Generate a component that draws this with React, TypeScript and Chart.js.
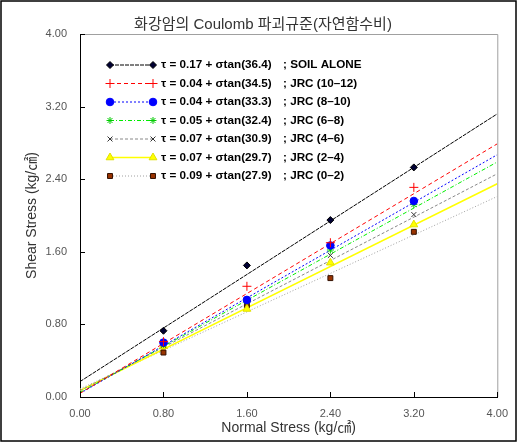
import React, { useEffect, useRef } from 'react';
import { Chart, registerables } from 'chart.js';
import { drawPoint } from 'chart.js/helpers';

Chart.register(...registerables);

// ---- data ----
const normalStress = [0.8, 1.6, 2.4, 3.2];
const soilAlone = [0.73, 1.45, 1.95, 2.53];
const jrc10to12 = [0.61, 1.22, 1.70, 2.31];
const jrc8to10 = [0.60, 1.07, 1.67, 2.16];
const jrc6to8 = [0.58, 1.06, 1.62, 2.12];
const jrc4to6 = [0.57, 1.04, 1.56, 2.01];
const jrc2to4 = [0.56, 0.97, 1.48, 1.90];
const jrc0to2 = [0.49, 1.01, 1.31, 1.82];

// fitted failure envelopes: value at sigma = 0 and sigma = 4
const fitX = [0, 4];
const fitSoil = [0.17, 3.12];
const fit10to12 = [0.04, 2.79];
const fit8to10 = [0.04, 2.67];
const fit6to8 = [0.05, 2.59];
const fit4to6 = [0.07, 2.46];
const fit2to4 = [0.07, 2.35];
const fit0to2 = [0.09, 2.21];

const equations = [
  'τ = 0.17 + σtan(36.4)',
  'τ = 0.04 + σtan(34.5)',
  'τ = 0.04 + σtan(33.3)',
  'τ = 0.05 + σtan(32.4)',
  'τ = 0.07 + σtan(30.9)',
  'τ = 0.07 + σtan(29.7)',
  'τ = 0.09 + σtan(27.9)',
];
const seriesNames = [
  '; SOIL ALONE',
  '; JRC (10–12)',
  '; JRC (8–10)',
  '; JRC (6–8)',
  '; JRC (4–6)',
  '; JRC (2–4)',
  '; JRC (0–2)',
];
const tickValues = [0, 0.8, 1.6, 2.4, 3.2, 4.0];
const chartTitle = '화강암의 Coulomb 파괴규준(자연함수비)';
const xTitle = 'Normal Stress (kg/㎠)';
const yTitle = 'Shear Stress (kg/㎠)';

const pointSeries = [soilAlone, jrc10to12, jrc8to10, jrc6to8, jrc4to6, jrc2to4, jrc0to2];
const fitSeries = [fitSoil, fit10to12, fit8to10, fit6to8, fit4to6, fit2to4, fit0to2];

// ---- styles ----
const styles = [
  { line: '#000000', dash: [4, 1], lw: 1, ps: 'rectRot', r: 3.5, fill: '#000033', stroke: '#000000', bw: 1 },
  { line: '#ff0000', dash: [4, 3], lw: 1, ps: 'cross', r: 4.5, fill: '#ff0000', stroke: '#ff0000', bw: 1 },
  { line: '#0000ff', dash: [2, 2], lw: 1, ps: 'circle', r: 3.8, fill: '#0000ff', stroke: '#0000ff', bw: 1 },
  { line: '#00ee00', dash: [4, 2, 1, 2], lw: 1, ps: 'star', r: 3.5, fill: '#00cc00', stroke: '#00cc00', bw: 1 },
  { line: '#888888', dash: [3, 2], lw: 1, ps: 'crossRot', r: 3.5, fill: '#333333', stroke: '#333333', bw: 1 },
  { line: '#ffff00', dash: [], lw: 1.5, ps: 'triangle', r: 4.5, fill: '#ffff00', stroke: '#e0e000', bw: 1 },
  { line: '#a0a0a0', dash: [1, 2], lw: 1, ps: 'rect', r: 3.5, fill: '#993300', stroke: '#331100', bw: 1 },
];

const FONT = '"Liberation Sans", Arial, "Noto Sans CJK KR", sans-serif';

const decorPlugin = {
  id: 'decor',
  afterDraw(chart: any) {
    const ctx = chart.ctx as CanvasRenderingContext2D;
    const { left, right, top, bottom } = chart.chartArea;
    const xs = chart.scales.x;
    const ys = chart.scales.y;
    ctx.save();
    // plot frame top/right
    ctx.strokeStyle = '#a0a0a0';
    ctx.lineWidth = 1;
    ctx.beginPath();
    ctx.moveTo(left, top + 0.5);
    ctx.lineTo(right + 0.5, top + 0.5);
    ctx.lineTo(right + 0.5, bottom);
    ctx.stroke();
    // inward ticks
    ctx.strokeStyle = '#000';
    ctx.beginPath();
    tickValues.forEach((v) => {
      const px = Math.round(xs.getPixelForValue(v)) + 0.5;
      ctx.moveTo(px, bottom);
      ctx.lineTo(px, bottom - 5);
      const py = Math.round(ys.getPixelForValue(v)) + 0.5;
      ctx.moveTo(left, py);
      ctx.lineTo(left + 5, py);
    });
    ctx.stroke();
    // outer border
    ctx.lineWidth = 1.5;
    ctx.strokeStyle = '#000';
    ctx.strokeRect(1, 1, 515, 440);
    // titles
    ctx.fillStyle = '#333';
    ctx.textAlign = 'center';
    ctx.textBaseline = 'middle';
    ctx.font = `15px ${FONT}`;
    ctx.fillText(chartTitle, 263, 25);
    ctx.font = `14px ${FONT}`;
    ctx.fillText(xTitle, (left + right) / 2, 428);
    ctx.save();
    ctx.translate(32, (top + bottom) / 2);
    ctx.rotate(-Math.PI / 2);
    ctx.fillText(yTitle, 0, 0);
    ctx.restore();
    // legend
    ctx.textAlign = 'left';
    ctx.font = `bold 11.7px ${FONT}`;
    const x0 = 110;
    const x1 = 153;
    styles.forEach((s, i) => {
      const y = 65 + i * 18.5;
      ctx.save();
      ctx.strokeStyle = s.line;
      ctx.lineWidth = s.lw;
      ctx.setLineDash(s.dash);
      ctx.beginPath();
      ctx.moveTo(x0, y);
      ctx.lineTo(x1, y);
      ctx.stroke();
      ctx.setLineDash([]);
      ctx.fillStyle = s.fill;
      ctx.strokeStyle = s.stroke;
      ctx.lineWidth = s.bw;
      [x0, x1].forEach((px) => {
        drawPoint(ctx, { pointStyle: s.ps, radius: s.r, rotation: 0, borderWidth: s.bw } as any, px, y);
      });
      ctx.restore();
      ctx.fillStyle = '#000';
      ctx.fillText(equations[i], 161, y);
      ctx.fillText(seriesNames[i], 283, y);
    });
    ctx.restore();
  },
};

export default function App() {
  const ref = useRef<HTMLCanvasElement | null>(null);
  useEffect(() => {
    document.body.style.margin = '0';
    if (!ref.current) return;
    const markerSets = pointSeries.map((vals, i) => ({
      type: 'scatter' as const,
      data: vals.map((v, j) => ({ x: normalStress[j], y: v })),
      showLine: false,
      pointStyle: styles[i].ps,
      pointRadius: styles[i].r,
      pointBackgroundColor: styles[i].fill,
      pointBorderColor: styles[i].stroke,
      pointBorderWidth: styles[i].bw,
      order: 0,
    }));
    const lineSets = fitSeries.map((vals, i) => ({
      type: 'line' as const,
      data: vals.map((v, j) => ({ x: fitX[j], y: v })),
      borderColor: styles[i].line,
      borderWidth: styles[i].lw,
      borderDash: styles[i].dash,
      pointRadius: 0,
      fill: false,
      order: 1,
    }));
    const tickOpts = {
      font: { family: FONT, size: 11 },
      color: '#555',
      callback: (v: any) => Number(v).toFixed(2),
      autoSkip: false,
    };
    const chart = new Chart(ref.current, {
      type: 'scatter',
      data: { datasets: [...markerSets, ...lineSets] as any },
      options: {
        animation: false,
        responsive: false,
        maintainAspectRatio: false,
        layout: { padding: { left: 0, top: 34, right: 19, bottom: 0 } },
        plugins: { legend: { display: false }, title: { display: false }, tooltip: { enabled: false } },
        scales: {
          x: {
            type: 'linear',
            min: 0,
            max: 4,
            afterBuildTicks: (s: any) => { s.ticks = tickValues.map((v) => ({ value: v })); },
            afterFit: (s: any) => { s.height = 48; },
            grid: { display: false, drawTicks: false },
            border: { display: true, color: '#000', width: 1 },
            ticks: { ...tickOpts, padding: 10, maxRotation: 0 },
          },
          y: {
            type: 'linear',
            min: 0,
            max: 4,
            afterBuildTicks: (s: any) => { s.ticks = tickValues.map((v) => ({ value: v })); },
            afterFit: (s: any) => { s.width = 80; },
            grid: { display: false, drawTicks: false },
            border: { display: true, color: '#000', width: 1 },
            ticks: { ...tickOpts, padding: 13 },
          },
        },
      } as any,
      plugins: [decorPlugin],
    });
    return () => chart.destroy();
  }, []);
  return <canvas ref={ref} width={518} height={445} style={{ display: 'block' }} />;
}
